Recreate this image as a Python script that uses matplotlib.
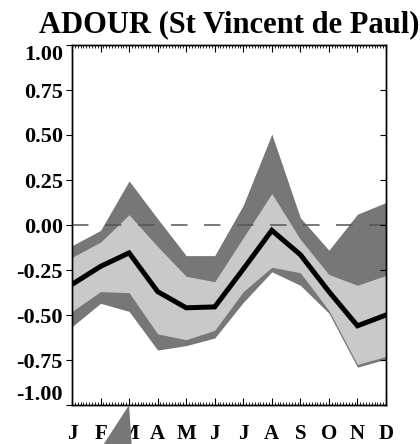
import numpy as np
import matplotlib
matplotlib.use("Agg")
import matplotlib.pyplot as plt
from matplotlib.ticker import AutoMinorLocator

plt.rcParams['font.family'] = ['Liberation Serif', 'DejaVu Serif']
plt.rcParams['font.weight'] = 'bold'

# monthly values, Jan..Dec
months = ['J', 'F', 'M', 'A', 'M', 'J', 'J', 'A', 'S', 'O', 'N', 'D']
median = [-0.33, -0.23, -0.155, -0.37, -0.46, -0.455, -0.245, -0.03, -0.165, -0.37, -0.56, -0.50]
inner_hi = [-0.18, -0.095, 0.057, -0.12, -0.285, -0.315, -0.07, 0.175, -0.08, -0.275, -0.335, -0.28]
inner_lo = [-0.48, -0.37, -0.376, -0.605, -0.637, -0.585, -0.37, -0.235, -0.265, -0.475, -0.775, -0.73]
outer_hi = [-0.115, -0.03, 0.245, 0.035, -0.17, -0.17, 0.11, 0.505, 0.04, -0.14, 0.06, 0.125]
outer_lo = [-0.565, -0.435, -0.48, -0.695, -0.67, -0.628, -0.43, -0.26, -0.335, -0.49, -0.79, -0.745]

# stray wedge hanging under the axis
spike_x = [2.0, 1.1, 2.09]
spike_y = [-1.0, -1.22, -1.22]

yticks = [-1.0, -0.75, -0.5, -0.25, 0.0, 0.25, 0.5, 0.75, 1.0]

dark = '#777777'
light = '#c9c9c9'

fig = plt.figure(figsize=(4.2, 4.44), dpi=100)
ax = fig.add_axes([72 / 420, 1 - 405 / 444, (386 - 72) / 420, (405 - 45) / 444])

x = np.arange(len(months))
ax.fill_between(x, outer_lo, outer_hi, color=dark, lw=0, zorder=1)
ax.fill_between(x, inner_lo, inner_hi, color=light, lw=0, zorder=2)
ax.axhline(0, color='#555555', lw=1.1, dashes=(10.8, 10.8), zorder=3)
ax.plot(x, median, color='black', lw=3.6, solid_joinstyle='miter', zorder=4)

ax.set_xlim(0, 11)
ax.set_ylim(-1, 1)

ax.set_xticks(x)
ax.set_xticklabels(months, fontsize=15, fontweight='bold')
ax.xaxis.set_minor_locator(AutoMinorLocator(10))
ax.tick_params(axis='x', which='major', direction='in', top=True, bottom=True, length=5, width=0.8, pad=14)
ax.tick_params(axis='x', which='minor', direction='in', top=True, bottom=True, length=2.5, width=0.6)

ax.set_yticks(yticks)
ax.set_yticklabels([f'{v:.2f}' for v in yticks], fontsize=16, fontweight='bold')
ax.tick_params(axis='y', which='major', direction='out', left=True, right=False, length=4.5, width=0.8, pad=2)
# end labels are pulled inside the axis range
ax.get_yticklabels()[-1].set_verticalalignment('top')
ax.get_yticklabels()[0].set_verticalalignment('bottom')

# right side ticks point inward
axr = ax.twinx()
axr.set_ylim(-1, 1)
axr.set_yticks(yticks)
axr.tick_params(axis='y', direction='in', length=4.5, width=0.8, labelright=False)

for a in (ax, axr):
    for s in a.spines.values():
        s.set_linewidth(1.0)
        s.set_color('black')

ax.fill(spike_x, spike_y, color=dark, lw=0, clip_on=False, zorder=10)

ax.set_title('ADOUR (St Vincent de Paul)', fontsize=22, fontweight='bold', pad=9)

fig.savefig('out.png', dpi=100)
